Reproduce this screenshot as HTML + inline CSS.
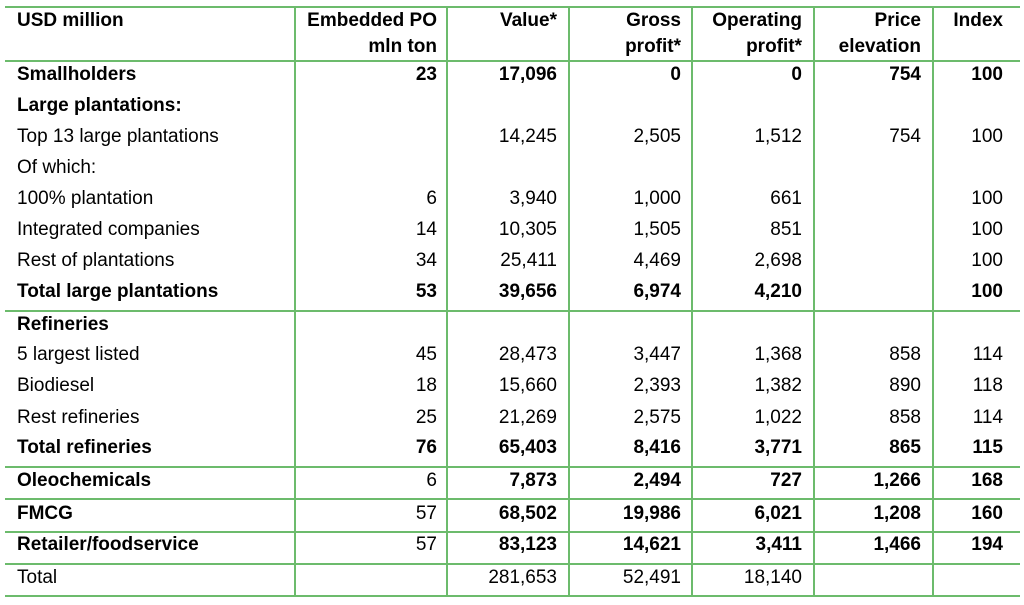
<!DOCTYPE html>
<html><head><meta charset="utf-8"><style>
body{margin:0;width:1024px;height:605px;background:#fff;position:relative;overflow:hidden;font-family:"Liberation Sans",Arial,sans-serif;font-size:19px;color:#000}
.h{position:absolute;left:5px;width:1015px;height:2px;background:#6cbb6c}
.v{position:absolute;width:2px;background:#6cbb6c;top:7px;height:590px}
.r{position:absolute;height:24px;line-height:24px;white-space:nowrap}
.l{left:17px}
.n{text-align:right;width:200px}
b{font-weight:bold}
</style></head><body>
<div class="h" style="top:6px"></div>
<div class="h" style="top:60px"></div>
<div class="h" style="top:310px"></div>
<div class="h" style="top:466px"></div>
<div class="h" style="top:498px"></div>
<div class="h" style="top:531px"></div>
<div class="h" style="top:563px"></div>
<div class="h" style="top:595px"></div>
<div class="v" style="left:294px"></div>
<div class="v" style="left:446px"></div>
<div class="v" style="left:568px"></div>
<div class="v" style="left:691px"></div>
<div class="v" style="left:813px"></div>
<div class="v" style="left:932px"></div>
<div id="c"></div>
<script>
var cols=[437,557,681,802,921,1003];
var rows=[
[21,1,"USD million","Embedded PO","Value*","Gross","Operating","Price","Index"],
[47,1,"","mln ton","","profit*","profit*","elevation",""],
[75,1,"Smallholders","23","17,096","0","0","754","100"],
[106,1,"Large plantations:","","","","","",""],
[137,0,"Top 13 large plantations","","14,245","2,505","1,512","754","100"],
[168,0,"Of which:","","","","","",""],
[199,0,"100% plantation","6","3,940","1,000","661","","100"],
[230,0,"Integrated companies","14","10,305","1,505","851","","100"],
[261,0,"Rest of plantations","34","25,411","4,469","2,698","","100"],
[292,1,"Total large plantations","53","39,656","6,974","4,210","","100"],
[325,1,"Refineries","","","","","",""],
[355,0,"5 largest listed","45","28,473","3,447","1,368","858","114"],
[386,0,"Biodiesel","18","15,660","2,393","1,382","890","118"],
[418,0,"Rest refineries","25","21,269","2,575","1,022","858","114"],
[448,1,"Total refineries","76","65,403","8,416","3,771","865","115"],
[481,2,"Oleochemicals","6","7,873","2,494","727","1,266","168"],
[514,2,"FMCG","57","68,502","19,986","6,021","1,208","160"],
[545,2,"Retailer/foodservice","57","83,123","14,621","3,411","1,466","194"],
[578,0,"Total","","281,653","52,491","18,140","",""]
];
var h="";
rows.forEach(function(r){
 var y=r[0]-12,b=r[1];
 var lb=b?"<b>"+r[2]+"</b>":r[2];
 h+='<div class="r l" style="top:'+y+'px">'+lb+'</div>';
 for(var i=0;i<6;i++){var t=r[3+i];if(!t)continue;
  var bold=b==1||(b==2&&i>0);
  h+='<div class="r n" style="top:'+y+'px;left:'+(cols[i]-200)+'px">'+(bold?"<b>"+t+"</b>":t)+'</div>';}
});
document.getElementById("c").innerHTML=h;
</script>
</body></html>
